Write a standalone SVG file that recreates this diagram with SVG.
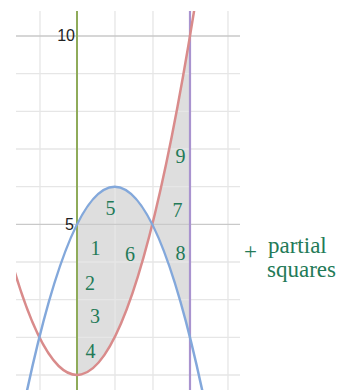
<svg xmlns="http://www.w3.org/2000/svg" width="350" height="390" viewBox="0 0 350 390">
<style>
.grid{stroke:#e6e6e6;stroke-width:1.3;fill:none}
.gridd{stroke:#c9c9c9;stroke-width:1.3;fill:none}
.curve{fill:none;stroke-width:2.5;stroke-linecap:round}
</style>
<defs>
<clipPath id="plot"><rect x="16" y="11" width="224" height="379"/></clipPath>
</defs>
<rect width="350" height="390" fill="#fff"/>
<g id="shade">
<path d="M77,224.3 Q114.66,148.98 152.32,224.3 Q171.15,148.98 189.98,36 L189.98,337.28 Q171.15,261.96 152.32,224.3 Q114.66,374.94 77,374.94 Z" fill="#dedede"/>
</g>
<g id="grid">
<path class="grid" d="M40,11V390M115,11V390M153,11V390M228,11V390"/>
<path class="grid" d="M16,73.7H240M16,111.3H240M16,149H240M16,186.7H240M16,262H240M16,299.7H240M16,337.3H240M16,375H240"/>
<path class="gridd" d="M16,36H240M16,224.3H240"/>
</g>
<g id="verticals">
<line x1="77" y1="11" x2="77" y2="390" stroke="#8fab5a" stroke-width="2"/>
<line x1="190" y1="11" x2="190" y2="390" stroke="#a993cf" stroke-width="2.2"/>
</g>
<g id="curves" clip-path="url(#plot)">
<path class="curve" stroke="#d98b8b" d="M12.98,266.1 Q104.3,576.61 195.63,1.26"/>
<path class="curve" stroke="#83a8db" d="M20.51,422 Q114.66,-48.74 208.81,422"/>
</g>
<g id="axis-labels" font-family="Liberation Sans, Arial, sans-serif" font-size="16" fill="#222" text-anchor="end">
<text x="75" y="41">10</text>
<text x="74" y="230">5</text>
</g>
<g id="numbers" font-family="Liberation Serif, Times New Roman, serif" font-size="20" fill="#237a57" text-anchor="middle">
<text x="95.5" y="255">1</text>
<text x="90" y="290">2</text>
<text x="95" y="323">3</text>
<text x="90.5" y="358">4</text>
<text x="110.5" y="215">5</text>
<text x="130" y="261">6</text>
<text x="177.5" y="217">7</text>
<text x="180.5" y="260">8</text>
<text x="180.5" y="163">9</text>
</g>
<g id="note" font-family="Liberation Serif, Times New Roman, serif" font-size="23" fill="#237a57">
<text x="244" y="259">+</text>
<text x="268" y="253">partial</text>
<text x="267" y="277">squares</text>
</g>
</svg>
